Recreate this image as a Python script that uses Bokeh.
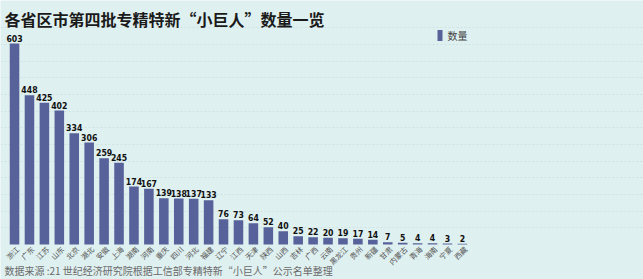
from bokeh.plotting import figure
from bokeh.models import ColumnDataSource, Label, Range1d, FixedTicker
from bokeh.core.properties import value
from bokeh.embed import file_html
from bokeh.resources import INLINE

provinces = ["浙江", "广东", "江苏", "山东", "北京", "湖北", "安徽", "上海", "湖南", "河南",
             "重庆", "四川", "河北", "福建", "辽宁", "江西", "天津", "陕西", "山西", "吉林",
             "广西", "云南", "黑龙江", "贵州", "新疆", "甘肃", "内蒙古", "青海", "海南", "宁夏", "西藏"]
counts = [603, 448, 425, 402, 334, 306, 259, 245, 174, 167,
          139, 138, 137, 133, 76, 73, 64, 52, 40, 25,
          22, 20, 19, 17, 14, 7, 5, 4, 4, 3, 2]
grid_ticks = [50, 100, 150, 200, 250, 300, 350, 400, 450, 500, 550, 600, 650]

title_text = "各省区市第四批专精特新“小巨人”数量一览"
source_text = "数据来源 :21 世纪经济研究院根据工信部专精特新“小巨人”公示名单整理"
legend_text = "数量"

W, H = 643, 279
BG = "#dff0f0"
BAR = "#58629a"
CJK = "Noto Sans CJK SC"
X0, X1 = -0.94, 42.13
Y0, Y1 = -105, 732

xs = list(range(len(provinces)))
src = ColumnDataSource(dict(x=xs, top=counts, name=provinces,
                            lab=[str(c) for c in counts]))

p = figure(width=W, height=H, output_backend="svg", toolbar_location=None,
           min_border=0, x_range=Range1d(X0, X1), y_range=Range1d(Y0, Y1),
           background_fill_color=BG, border_fill_color=BG, outline_line_color=None)
p.xaxis.visible = False
p.yaxis.visible = False
p.xgrid.visible = False
p.yaxis.ticker = FixedTicker(ticks=grid_ticks)
p.ygrid.ticker = FixedTicker(ticks=grid_ticks)
p.ygrid.grid_line_color = "#c8dcdc"
p.ygrid.grid_line_dash = "2 2"
p.ygrid.grid_line_alpha = 0.7

p.vbar(x="x", top="top", bottom=0, width=0.64, source=src, color=BAR, line_color=None)

p.text(x="x", y="top", text="lab", source=src, text_align="center", text_baseline="bottom",
       y_offset=-2, text_font=value("DejaVu Sans Condensed"),
       text_font_style="bold", text_font_size="6.5pt", text_color="#111111")

p.text(x="x", y=-9, text="name", source=src, angle=45, angle_units="deg",
       text_align="right", text_baseline="middle", x_offset=3,
       text_font=value(CJK), text_font_size="5.5pt", text_color="#555555")

p.add_layout(Label(x=4, y=H - 6, x_units="screen", y_units="screen", text=title_text,
                   text_font=CJK, text_font_style="bold", text_font_size="12pt",
                   text_color="#1a1a1a", text_baseline="top"))
p.add_layout(Label(x=4, y=2, x_units="screen", y_units="screen", text=source_text,
                   text_font=CJK, text_font_size="7.5pt", text_color="#6a6a6a",
                   text_baseline="bottom"))
p.add_layout(Label(x=447, y=H - 35, x_units="screen", y_units="screen", text=legend_text,
                   text_font=CJK, text_font_size="7.5pt", text_color="#444444",
                   text_baseline="middle"))

sx_per = (X1 - X0) / W
sy_per = (Y1 - Y0) / H
p.rect(x=[X0 + 439.5 * sx_per], y=[Y0 + (H - 35) * sy_per], width=5 * sx_per,
       height=11 * sy_per, color=BAR, line_color=None)

open("out.html", "w").write(file_html(p, INLINE))
